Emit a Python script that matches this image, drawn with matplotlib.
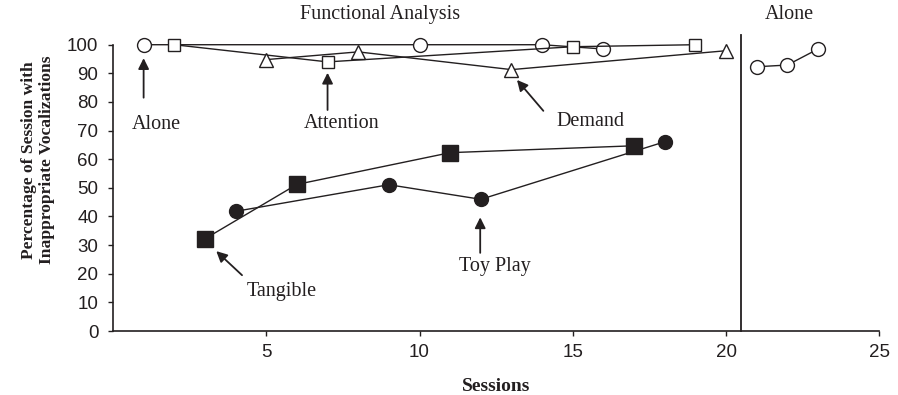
import matplotlib
matplotlib.use("Agg")
import matplotlib.pyplot as plt

# session numbers and percentage of session with inappropriate vocalizations
alone_x = [1, 10, 14, 16]
alone_y = [100, 100, 100, 98.5]
attention_x = [2, 7, 15, 19]
attention_y = [100, 94, 99.3, 100]
demand_x = [5, 8, 13, 20]
demand_y = [94.8, 97.5, 91.3, 97.9]
tangible_x = [3, 6, 11, 17]
tangible_y = [32.2, 51.2, 62.3, 64.7]
toyplay_x = [4, 9, 12, 18]
toyplay_y = [41.8, 51.1, 46.0, 66.1]
alone2_x = [21, 22, 23]
alone2_y = [92.3, 92.9, 98.5]

phase_change = 20.5
x_ticks = [5, 10, 15, 20, 25]
y_ticks = list(range(0, 101, 10))

INK = "#231f20"
SERIF = "Liberation Serif"
SANS = "Liberation Sans"
TXT = 14.5


def series(ax, x, y, marker, ms, filled):
    face = INK if filled else "white"
    ax.plot(x, y, color=INK, lw=1.0, marker=marker, ms=ms,
            mfc=face, mec=INK, mew=1.0, clip_on=False, zorder=3)


def pointer(ax, tip, tail):
    ax.annotate("", xy=tip, xytext=tail, annotation_clip=False,
                arrowprops=dict(arrowstyle="-|>", color=INK, lw=1.3,
                                mutation_scale=16, shrinkA=0, shrinkB=0))


def words(ax, x, y, text):
    ax.text(x, y, text, ha="center", va="center", fontsize=TXT,
            family=SERIF, color=INK)


def main():
    fig = plt.figure(figsize=(8.98, 3.95), dpi=100)
    ax = fig.add_axes([0.1258, 0.162, 0.8534, 0.7248])

    series(ax, alone_x, alone_y, "o", 10, False)
    series(ax, attention_x, attention_y, "s", 9, False)
    series(ax, demand_x, demand_y, "^", 9.5, False)
    series(ax, tangible_x, tangible_y, "s", 11, True)
    series(ax, toyplay_x, toyplay_y, "o", 10, True)
    series(ax, alone2_x, alone2_y, "o", 10, False)

    ax.plot([phase_change, phase_change], [0, 103.5], color=INK, lw=1.3,
            clip_on=False)

    ax.set_xlim(0, 25)
    ax.set_ylim(0, 100)
    ax.set_xticks(x_ticks)
    ax.set_yticks(y_ticks)
    ax.tick_params(direction="out", length=3.5, width=1, color=INK,
                   labelsize=13.5, labelcolor=INK)
    ax.tick_params(axis="y", pad=7)
    ax.tick_params(axis="x", pad=6)
    for lab in ax.get_xticklabels() + ax.get_yticklabels():
        lab.set_family(SANS)
    for side in ("top", "right"):
        ax.spines[side].set_visible(False)
    for side in ("left", "bottom"):
        ax.spines[side].set_color(INK)
        ax.spines[side].set_linewidth(1.2)

    ax.set_xlabel("Sessions", family=SERIF, fontweight="bold",
                  fontsize=14, color=INK, labelpad=12)
    ax.set_ylabel("Percentage of Session with\nInappropriate Vocalizations",
                  family=SERIF, fontweight="bold", fontsize=12.6, color=INK,
                  linespacing=1.2)
    ax.yaxis.set_label_coords(-0.0757, 0.597)

    words(ax, 8.72, 110.7, "Functional Analysis")
    words(ax, 22.06, 110.7, "Alone")

    pointer(ax, (1, 95.3), (1, 81.5))
    words(ax, 1.43, 72.1, "Alone")
    pointer(ax, (7, 90.2), (7, 77.2))
    words(ax, 7.47, 72.6, "Attention")
    pointer(ax, (13.18, 87.7), (14.04, 76.9))
    words(ax, 15.57, 73.1, "Demand")
    pointer(ax, (3.37, 27.9), (4.21, 19.5))
    words(ax, 5.51, 13.7, "Tangible")
    pointer(ax, (11.98, 39.7), (11.98, 27.3))
    words(ax, 12.47, 22.4, "Toy Play")

    fig.savefig("out.png", dpi=100)


if __name__ == "__main__":
    main()
